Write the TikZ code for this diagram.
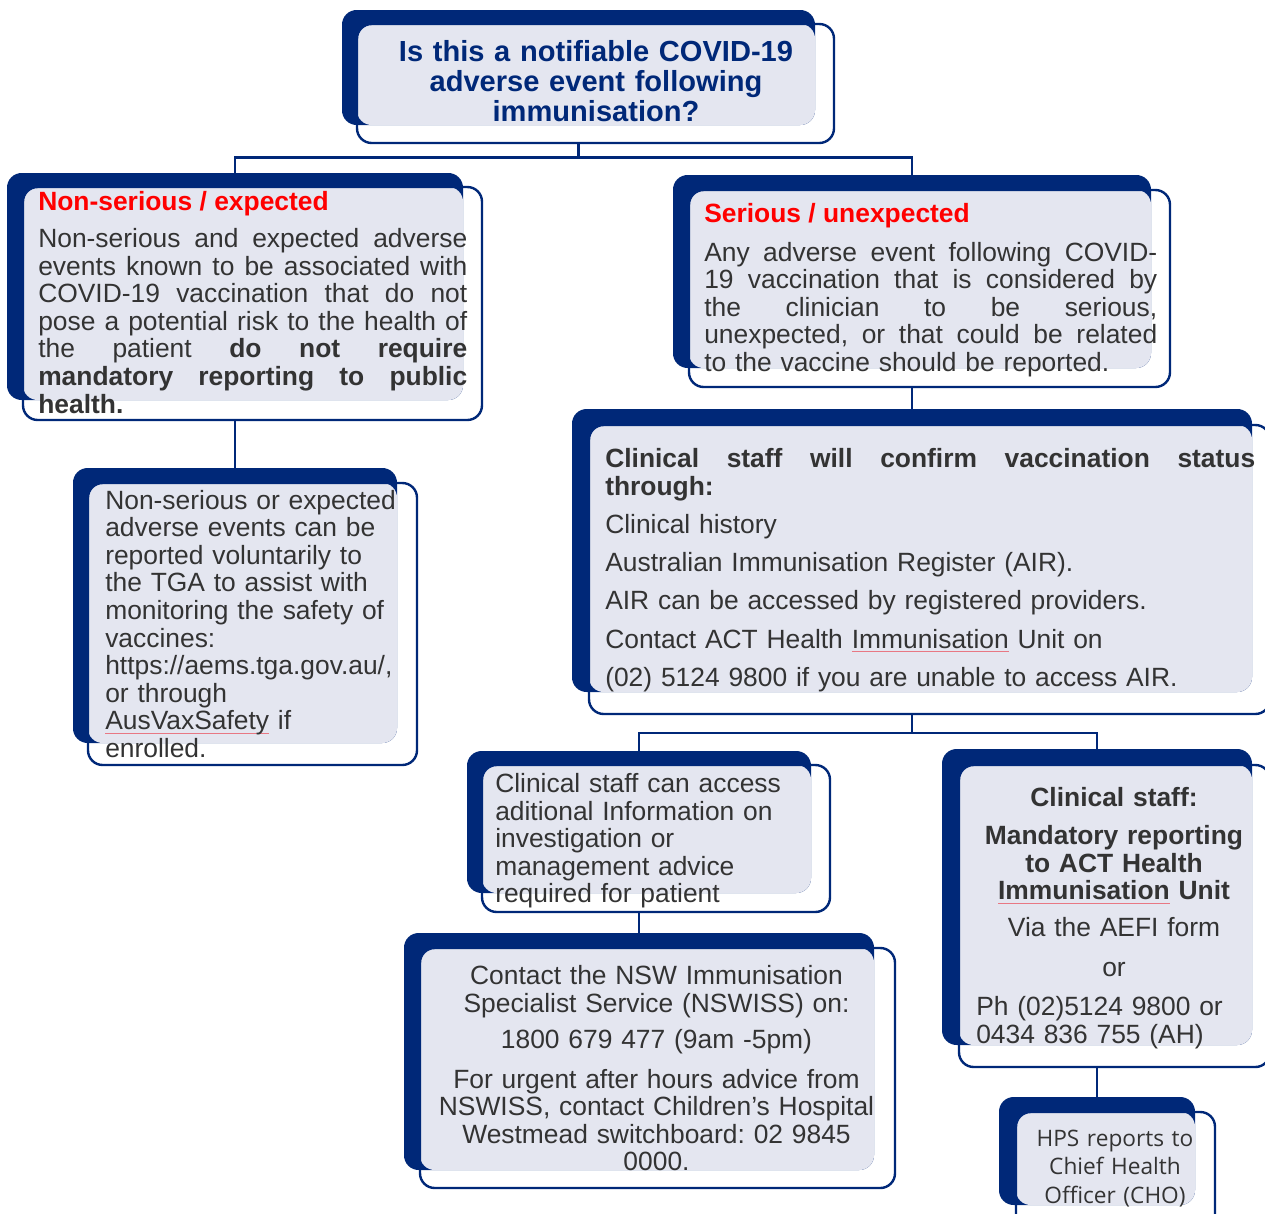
\documentclass[tikz,border=0pt]{standalone}
\usepackage{fontspec}
\setmainfont{Liberation Sans}
\newfontfamily\osans{Open Sans}
\usetikzlibrary{fit,backgrounds}
\definecolor{navy}{HTML}{002878}
\definecolor{pale}{HTML}{E4E6F0}
\definecolor{ink}{HTML}{333333}
\definecolor{alert}{HTML}{FF0000}
\definecolor{squig}{HTML}{E87884}
\frenchspacing
\newlength\jw
\newcommand\bodyfont{\fontsize{19.8}{20.7}\selectfont}
\newcommand\titlefont{\fontsize{21.8}{22.5}\selectfont\bfseries}
\newcommand\jl[1]{{\spaceskip=0pt\xspaceskip=0pt\makebox[\jw][s]{#1}}}
\newcommand\sq[1]{\leavevmode\setbox0\hbox{#1}\rlap{\color{squig}\rule[-2.6pt]{\wd0}{0.5pt}}#1}
\newcommand\dbox[9]{%
  \node[navybox, fit={(#2,#3) (#4,#5)}] (#1) {};
  \fill[pale, rounded corners=11pt] (#6,#7) rectangle (#4,#5);
  \node[outbox, fit={(#6,#7) (#8,#9)}] (#1o) {};
}
\begin{document}
\begin{tikzpicture}[x=0.75pt,y=-0.75pt,
  navybox/.style={inner sep=0pt, fill=navy, rounded corners=11pt},
  outbox/.style={inner sep=0pt, draw=navy, line width=1.8pt, rounded corners=11pt},
  conn/.style={draw=navy, line width=1.8pt},
  txt/.style={inner sep=0pt, text=ink, font=\bodyfont\frenchspacing, align=left},
  ctxt/.style={inner sep=0pt, text=ink, font=\bodyfont\frenchspacing, align=center}]
\useasboundingbox (0,0) rectangle (1265,1214);

% boxes: name, navy rect, outline rect
\dbox{b1}{342}{10}{815}{125}{357}{24}{834}{143}
\dbox{b2}{7}{173}{463}{400}{23}{187}{482}{420}
\dbox{b3}{73}{468}{397}{743}{88}{483}{417}{765}
\dbox{b4}{673}{175}{1151}{368}{689}{190}{1170}{387}
\dbox{b5}{572}{409}{1252}{692}{589}{425}{1270}{714}
\dbox{b6}{467}{751}{811}{893}{482}{765}{830}{912}
\dbox{b7}{404}{933}{874}{1170}{420}{948}{895}{1188}
\dbox{b8}{942}{749}{1252}{1045}{959}{765}{1270}{1067}
\dbox{b9}{999}{1097}{1195}{1205}{1016}{1112}{1215}{1230}

% connectors
\coordinate (j1) at (0,157.3);
\coordinate (j2) at (0,733);
\begin{scope}[on background layer]
\fill[white] (0,0) rectangle (1265,1214);
\draw[conn] (b1.south |- b1o.south) -- (b1.south |- j1);
\draw[conn] (b2.north) |- (b1.south |- j1) -| (b4.north);
\draw[conn] (b2.south |- b2o.south) -- (b3.north);
\draw[conn] (b4.south |- b4o.south) -- (b5.north);
\draw[conn] (b5.south |- b5o.south) -- (b5.south |- j2);
\draw[conn] (b6.north) |- (b5.south |- j2) -| (b8.north);
\draw[conn] (b6.south |- b6o.south) -- (b7.north);
\draw[conn] (b8.south |- b8o.south) -- (b9.north);
\end{scope}

% texts
\node[ctxt, font=\titlefont, text=navy, text width=352pt, anchor=base] (t1) at (596,61.7)
  {Is this a notifiable COVID-19\\adverse event following\\immunisation?};

\node[txt, font=\bodyfont\bfseries, text=alert, anchor=base west] (t2h) at (38,210) {Non-serious / expected};
\node[txt, text width=321.75pt, anchor=base west] (t2) at (38,247.5)
  {\setlength\jw{321.75pt}\jl{Non-serious and expected adverse}\\
   \jl{events known to be associated with}\\
   \jl{COVID-19 vaccination that do not}\\
   \jl{pose a potential risk to the health of}\\
   \jl{the patient \textbf{do not require}}\\
   \jl{\textbf{mandatory reporting to public}}\\
   \textbf{health.}};

\node[txt, text width=240pt, anchor=base west] (t3) at (105,509)
  {Non-serious or expected\\adverse events can be\\reported voluntarily to\\the TGA to assist with\\monitoring the safety of\\vaccines:\\https://aems.tga.gov.au/,\\or through\\\sq{AusVaxSafety} if\\enrolled.};

\node[txt, font=\bodyfont\bfseries, text=alert, anchor=base west] (t4h) at (704,222) {Serious / unexpected};
\node[txt, text width=339.75pt, anchor=base west] (t4) at (704,261)
  {\setlength\jw{339.75pt}\jl{Any adverse event following COVID-}\\
   \jl{19 vaccination that is considered by}\\
   \jl{the clinician to be serious,}\\
   \jl{unexpected, or that could be related}\\
   to the vaccine should be reported.};

\node[txt, text width=487.5pt, anchor=base west] (t5) at (605,467.5)
  {\setlength\jw{487.5pt}{\bfseries\jl{Clinical staff will confirm vaccination status}\\through:}\\[8pt]
   Clinical history\\[8pt]
   Australian Immunisation Register (AIR).\\[8pt]
   AIR can be accessed by registered providers.\\[8pt]
   Contact ACT Health \sq{Immunisation} Unit on\\[8pt]
   (02) 5124 9800 if you are unable to access AIR.};

\node[txt, text width=255pt, anchor=base west] (t6) at (495,792.5)
  {Clinical staff can access\\aditional Information on\\investigation or\\management advice\\required for patient};

\node[ctxt, text width=352pt, anchor=base] (t7) at (656.5,984.5)
  {Contact the NSW Immunisation\\Specialist Service (NSWISS) on:\\[6.3pt]
   1800 679 477 (9am -5pm)\\[9.3pt]
   For urgent after hours advice from\\NSWISS, contact Children’s Hospital\\Westmead switchboard: 02 9845\\0000.};

\node[ctxt, text width=225pt, anchor=base] (t8a) at (1114,806.5)
  {\textbf{Clinical staff:}\\[7.8pt]
   \textbf{Mandatory reporting}\\\textbf{to ACT Health}\\\textbf{\sq{Immunisation} Unit}\\[7pt]
   Via the AEFI form\\[9.3pt]
   or};
\node[txt, text width=210pt, anchor=base west] (t8b) at (976,1015.5) {Ph (02)5124 9800 or\\0434 836 755 (AH)};

\node[ctxt, font=\osans\fontsize{17}{21.4}\selectfont, text width=150pt, anchor=base] (t9) at (1115,1146)
  {HPS reports to\\Chief Health\\Officer (CHO)};
\end{tikzpicture}
\end{document}
